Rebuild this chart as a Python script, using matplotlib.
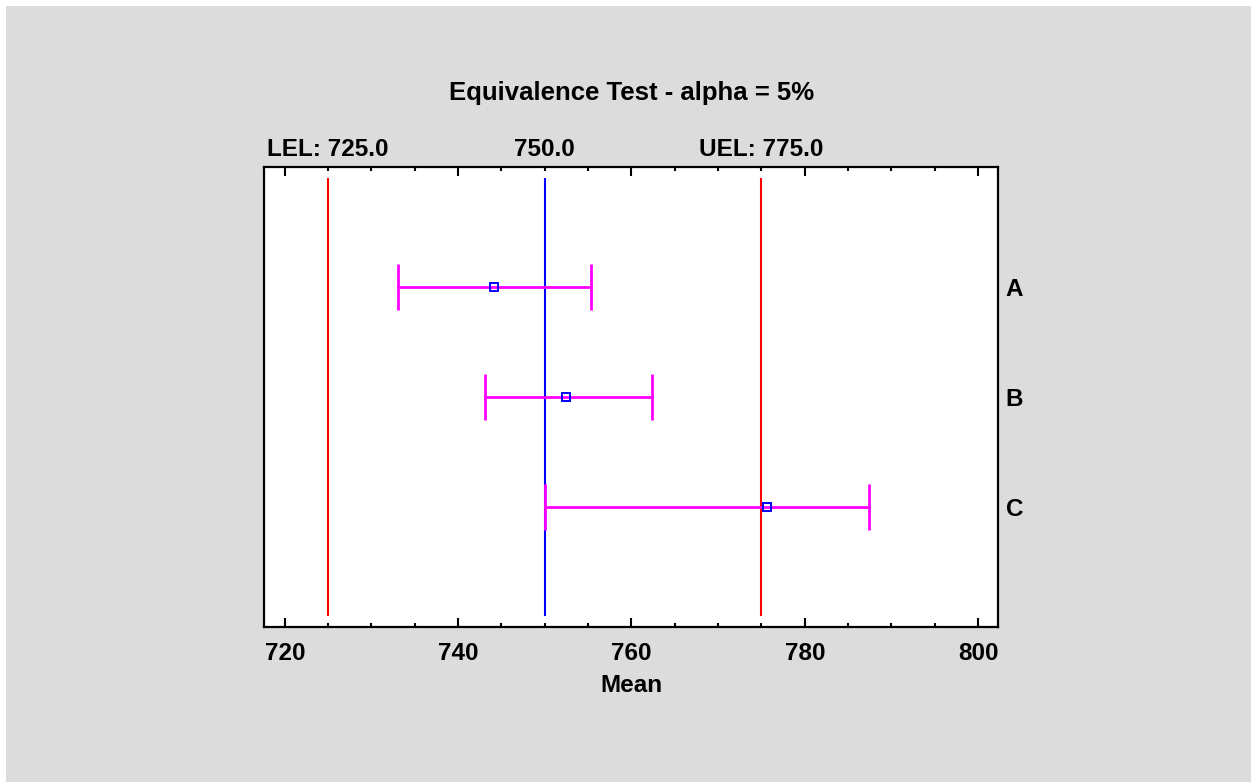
import matplotlib
matplotlib.use("Agg")
import matplotlib.pyplot as plt
from matplotlib.patches import Rectangle
from matplotlib.ticker import MultipleLocator, FixedLocator, FixedFormatter

plt.rcParams["font.family"] = ["Liberation Sans", "DejaVu Sans"]
plt.rcParams["font.weight"] = "bold"

groups = ["A", "B", "C"]
means = [744.1, 752.5, 775.7]
lower = [733.1, 743.1, 750.0]
upper = [755.3, 762.4, 787.4]
lel, target, uel = 725.0, 750.0, 775.0
top_ticks = [lel, target, uel]
top_labels = ["LEL: 725.0", "750.0", "UEL: 775.0"]

FS = 17.5

fig = plt.figure(figsize=(12.51, 7.82), dpi=100, facecolor="white")
fig.patches.append(Rectangle((6 / 1251, 0), 1, 1 - 6 / 782, transform=fig.transFigure,
                             facecolor="#dcdcdc", edgecolor="none", zorder=-10))

ax = fig.add_axes([264 / 1251, 1 - 627 / 782, 734 / 1251, 460 / 782])
ax.set_facecolor("white")

ypos = list(range(1, len(groups) + 1))

# reference lines
ax.vlines([lel, uel], 0, 4, colors="#ff0000", linewidth=1.5, zorder=2)
ax.vlines([target], 0, 4, colors="#0000ff", linewidth=1.5, zorder=2)

# intervals
for y, m, lo, hi in zip(ypos, means, lower, upper):
    ax.plot([lo, hi], [y, y], color="#ff00ff", linewidth=2, zorder=3)
    ax.vlines([lo, hi], y - 0.21, y + 0.21, colors="#ff00ff", linewidth=2, zorder=3)
ax.plot(means, ypos, linestyle="none", marker="s", markersize=6, markerfacecolor="none",
        markeredgecolor="#0000ff", markeredgewidth=1.4, zorder=4)

ax.set_xlim(717.6, 802.3)
ax.set_ylim(4.1, -0.1)

for s in ax.spines.values():
    s.set_linewidth(1.6)

ax.xaxis.set_major_locator(MultipleLocator(20))
ax.xaxis.set_minor_locator(MultipleLocator(5))
ax.tick_params(axis="x", which="major", direction="in", length=6.5, width=1.5,
               top=True, bottom=True, labelsize=FS, pad=11, labeltop=False)
ax.tick_params(axis="x", which="minor", direction="in", length=2.7, width=1.5,
               top=True, bottom=True)

ax.yaxis.set_major_locator(FixedLocator(ypos))
ax.yaxis.set_major_formatter(FixedFormatter(groups))
ax.tick_params(axis="y", left=False, right=False, labelleft=False, labelright=True,
               labelsize=FS, pad=2)

ax.set_xlabel("Mean", fontsize=FS, fontweight="bold", labelpad=6)

# top labels for limits
sec = ax.secondary_xaxis("top")
sec.set_xticks(top_ticks)
sec.set_xticklabels(top_labels, fontsize=FS, fontweight="bold")
sec.tick_params(length=0, pad=4)
sec.spines["top"].set_visible(False)

fig.text(632 / 1251, 1 - 100 / 782, "Equivalence Test - alpha = 5%", ha="center",
         va="baseline", fontsize=18.5, fontweight="bold")

fig.savefig("out.png", dpi=100, facecolor=fig.get_facecolor())
